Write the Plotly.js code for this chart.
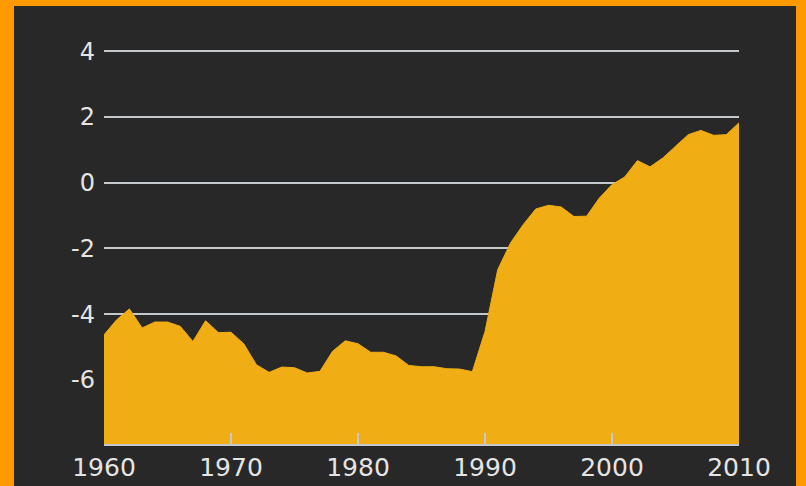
<!DOCTYPE html>
<html>
<head>
<meta charset="utf-8">
<script src="https://cdn.plot.ly/plotly-3.0.1.min.js"></script>
<style>
  html, body { margin: 0; padding: 0; background: #ff9900; width: 806px; height: 486px; overflow: hidden; }
  #chart { position: absolute; left: 14px; top: 6px; width: 782px; height: 480px; }
</style>
</head>
<body>
<div id="chart"></div>
<script>
const years = [];
for (let y = 1960; y <= 2010; y++) years.push(y);

const values = [
  -4.63, -4.17, -3.84, -4.42, -4.24, -4.24, -4.37, -4.83, -4.20, -4.56,
  -4.55, -4.90, -5.54, -5.77, -5.61, -5.63, -5.79, -5.74, -5.13, -4.81,
  -4.90, -5.16, -5.16, -5.27, -5.56, -5.60, -5.60, -5.66, -5.67, -5.75,
  -4.53, -2.65, -1.84, -1.28, -0.80, -0.69, -0.74, -1.03, -1.02, -0.47,
  -0.06, 0.17, 0.67, 0.48, 0.75, 1.11, 1.46, 1.59, 1.44, 1.46,
  1.82
];

const yTicks = [-6, -4, -2, 0, 2, 4];
const xTicks = [1960, 1970, 1980, 1990, 2000, 2010];
const yBottom = -7.95;

const baseline = {
  x: years,
  y: years.map(() => yBottom),
  type: 'scatter',
  mode: 'lines',
  line: { width: 0, color: 'rgba(0,0,0,0)' },
  hoverinfo: 'skip',
  showlegend: false
};

const area = {
  x: years,
  y: values,
  type: 'scatter',
  mode: 'lines',
  fill: 'tonexty',
  fillcolor: '#f0ae14',
  line: { width: 1, color: '#f0ae14' },
  showlegend: false
};

const layout = {
  width: 782,
  height: 480,
  paper_bgcolor: '#282828',
  plot_bgcolor: '#282828',
  margin: { l: 90, r: 57, t: 32, b: 42 },
  font: { family: '"DejaVu Sans", sans-serif', color: '#e4e4e4' },
  xaxis: {
    range: [1960, 2010],
    tickvals: xTicks,
    ticktext: xTicks.map(String),
    showgrid: false,
    zeroline: false,
    showline: true,
    linecolor: '#c4c9ce',
    linewidth: 2,
    ticks: 'inside',
    ticklen: 11,
    tickwidth: 2,
    tickcolor: '#c4c9ce',
    tickfont: { size: 25, color: '#e4e4e4' },
    fixedrange: true
  },
  yaxis: {
    range: [yBottom, 4.4],
    tickvals: yTicks,
    ticktext: yTicks.map(String),
    showgrid: true,
    gridcolor: '#c4c9ce',
    gridwidth: 2,
    zeroline: false,
    showline: false,
    ticks: '',
    ticklabelstandoff: 8,
    tickfont: { size: 24, color: '#e4e4e4' },
    fixedrange: true
  }
};

Plotly.newPlot('chart', [baseline, area], layout, { displayModeBar: false, staticPlot: true });
</script>
</body>
</html>
